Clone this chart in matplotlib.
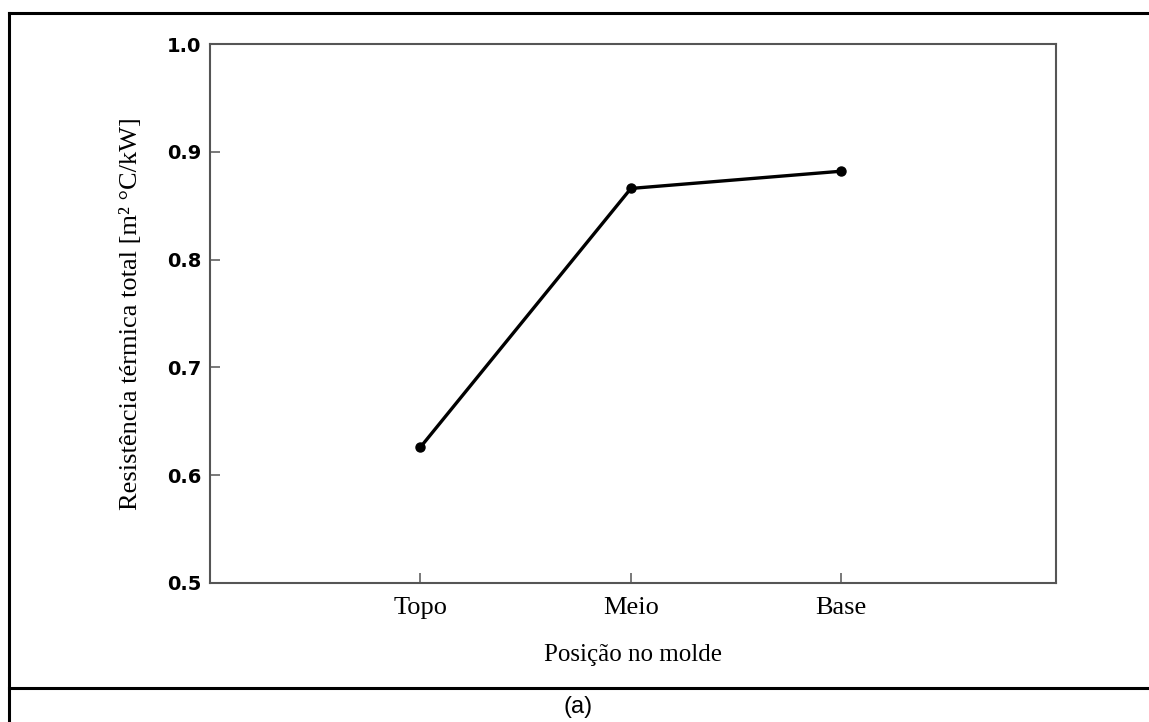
import matplotlib
matplotlib.use("Agg")
import matplotlib.pyplot as plt
from matplotlib.lines import Line2D

# Thermal resistance by position in the mould
positions = ["Topo", "Meio", "Base"]
resistance = [0.626, 0.866, 0.882]
y_ticks = [0.5, 0.6, 0.7, 0.8, 0.9, 1.0]

W, H = 1149, 722
fig = plt.figure(figsize=(W / 100, H / 100), dpi=100)

ax = fig.add_axes([210 / W, 1 - 583 / H, (1056 - 210) / W, (583 - 44) / H])

x = list(range(1, len(positions) + 1))
ax.plot(x, resistance, color="black", linewidth=2.4, marker="o",
        markersize=6.5, solid_joinstyle="round")

ax.set_xlim(0, 4.02)
ax.set_ylim(0.5, 1.0)
ax.set_xticks(x)
ax.set_xticklabels(positions, fontfamily="Liberation Serif", fontsize=19)
ax.set_yticks(y_ticks)
ax.set_yticklabels([f"{v:.1f}" for v in y_ticks], fontfamily="DejaVu Sans",
                   fontweight="bold", fontsize=14)

ax.tick_params(axis="y", direction="in", length=7, width=1.1,
               color="#555555", pad=6)
ax.tick_params(axis="x", direction="in", length=7, width=1.1,
               color="#555555", pad=10)
for side in ["left", "right", "top", "bottom"]:
    ax.spines[side].set_color("#555555")
    ax.spines[side].set_linewidth(1.5)

ax.set_xlabel("Posição no molde", fontfamily="Liberation Serif",
              fontsize=18, labelpad=18)
ax.set_ylabel("Resistência térmica total [m² °C/kW]",
              fontfamily="Liberation Serif", fontsize=19, labelpad=18)

# Table-cell frame around the figure and the caption row
frame_kw = dict(color="black", linewidth=2.2, transform=fig.transFigure)
fig.add_artist(Line2D([9 / W, 9 / W], [0, 1 - 13 / H], **frame_kw))
fig.add_artist(Line2D([9 / W, 1], [1 - 13 / H, 1 - 13 / H], **frame_kw))
fig.add_artist(Line2D([9 / W, 1], [1 - 688 / H, 1 - 688 / H], **frame_kw))

fig.text(578 / W, 1 - 707 / H, "(a)", fontfamily="Liberation Sans",
         fontsize=17, ha="center", va="center")

fig.savefig("out.png", dpi=100)
